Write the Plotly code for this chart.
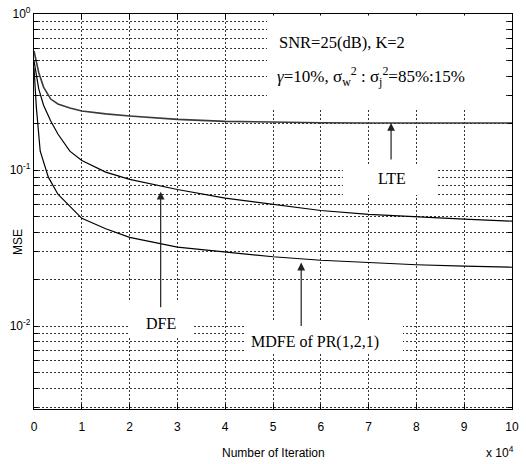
import numpy as np
import plotly.graph_objects as go

# ---- data ----
iter_lte = [0, 0.1, 0.2, 0.35, 0.5, 0.75, 1.0, 1.5, 2, 3, 4, 5, 6, 7, 8, 9, 10]
mse_lte = [0.58, 0.42, 0.34, 0.285, 0.265, 0.25, 0.239, 0.229, 0.222, 0.211, 0.205, 0.202,
           0.201, 0.2, 0.2, 0.2, 0.2]

iter_dfe = [0, 0.1, 0.2, 0.35, 0.5, 0.75, 1.0, 1.5, 2, 2.65, 3, 4, 5, 6, 7, 8, 9, 10]
mse_dfe = [0.5, 0.33, 0.26, 0.206, 0.17, 0.132, 0.115, 0.097, 0.087, 0.079, 0.075, 0.066,
           0.06, 0.055, 0.052, 0.05, 0.0485, 0.047]

iter_mdfe = [0, 0.05, 0.13, 0.3, 0.5, 1.0, 1.5, 2, 3, 4, 5, 6, 7, 8, 9, 10]
mse_mdfe = [0.45, 0.25, 0.132, 0.09, 0.07, 0.049, 0.042, 0.037, 0.032, 0.0298, 0.0278,
            0.0264, 0.0255, 0.0247, 0.0242, 0.0238]

x_ticks = list(range(0, 11))
y_decades = [-2, -1, 0]

# ---- layout helpers (pixel -> paper) ----
L, R, T, B = 34, 512, 14, 409
def px(x):
    return (x - L) / (R - L)
def py(y):
    return (B - y) / (B - T)

SANS = "Liberation Sans, Arial, sans-serif"
SERIF = "Liberation Serif, Times New Roman, serif"

fig = go.Figure()
fig.add_trace(go.Scatter(x=iter_lte, y=mse_lte, mode="lines", name="LTE",
                         line=dict(color="#3a3a3a", width=1.6)))
fig.add_trace(go.Scatter(x=iter_dfe, y=mse_dfe, mode="lines", name="DFE",
                         line=dict(color="black", width=1.2)))
fig.add_trace(go.Scatter(x=iter_mdfe, y=mse_mdfe, mode="lines", name="MDFE",
                         line=dict(color="black", width=1.2)))

ylo = -2.532
tickvals, ticktext = [], []
for e in range(-3, 1):
    for d in range(1, 10):
        v = d * 10.0 ** e
        if np.log10(v) >= ylo - 1e-9 and np.log10(v) <= 1e-9:
            tickvals.append(v)
            ticktext.append(f"10<sup>{e}</sup>" if (d == 1 and e in y_decades) else "")

grid = dict(showgrid=True, gridcolor="#333333", gridwidth=1, griddash="2px,2px")

fig.update_xaxes(range=[0, 10], tickvals=x_ticks, ticktext=[str(t) for t in x_ticks],
                 ticks="inside", ticklen=5, tickcolor="black", showline=True,
                 linecolor="black", linewidth=1.2, mirror="ticks", zeroline=False,
                 tickfont=dict(family=SANS, size=12, color="black"),
                 ticklabelstandoff=6, automargin=False, **grid)
fig.update_yaxes(type="log", range=[ylo, 0], tickvals=tickvals, ticktext=ticktext,
                 ticks="inside", ticklen=4, tickcolor="black", showline=True,
                 linecolor="black", linewidth=1.2, mirror="ticks", zeroline=False,
                 tickfont=dict(family=SANS, size=12, color="black"),
                 automargin=False, **grid)

# white text backgrounds (drawn over the grid, under the annotations)
boxes = [(267, 15.5, 505, 108), (343, 164, 437, 195), (128, 302, 192, 336), (244, 320, 403, 354)]
for x0, y0, x1, y1 in boxes:
    fig.add_shape(type="rect", xref="paper", yref="paper", x0=px(x0), x1=px(x1),
                  y0=py(y1), y1=py(y0), fillcolor="white", line=dict(width=0), layer="above")

ann = []
def text(s, x, y, xanchor="center", size=16, family=SERIF, **kw):
    ann.append(dict(text=s, x=px(x), y=py(y), xref="paper", yref="paper", showarrow=False,
                    xanchor=xanchor, yanchor="middle",
                    font=dict(family=family, size=size, color="black"), **kw))

text("SNR=25(dB), K=2", 277, 42, xanchor="left", size=16.5)
text("<i>γ</i>=10%, σ<sub>w</sub><sup>2</sup> : σ<sub>j</sub><sup>2</sup>=85%:15%", 275, 77,
     xanchor="left", size=17)
text("LTE", 391.5, 178)
text("DFE", 160.5, 323)
text("MDFE of PR(1,2,1)", 249, 342, xanchor="left")
text("Number of Iteration", 273, 453, size=12, family=SANS)
text("x 10<sup>4</sup>", 516, 452, xanchor="right", size=12, family=SANS)
text("MSE", 18, 242, size=12, family=SANS, textangle=-90)

def arrow(x, yval, ay):
    ann.append(dict(text="", x=x, y=np.log10(yval), xref="x", yref="y", showarrow=True,
                    ax=0, ay=ay, arrowhead=2, arrowsize=1.3, arrowwidth=1.2,
                    arrowcolor="#222222", standoff=0, startstandoff=0))

arrow(7.47, 0.2, 38)
arrow(2.65, 0.0726, 117)
arrow(5.59, 0.0255, 65)

fig.update_layout(width=526, height=464, margin=dict(l=L, r=526 - R, t=T, b=464 - B),
                  plot_bgcolor="white", paper_bgcolor="white", showlegend=False,
                  annotations=ann)

fig.write_html("out.html", config={"displayModeBar": False},
               post_script="document.body.style.margin='0';document.body.style.overflow='hidden';")
